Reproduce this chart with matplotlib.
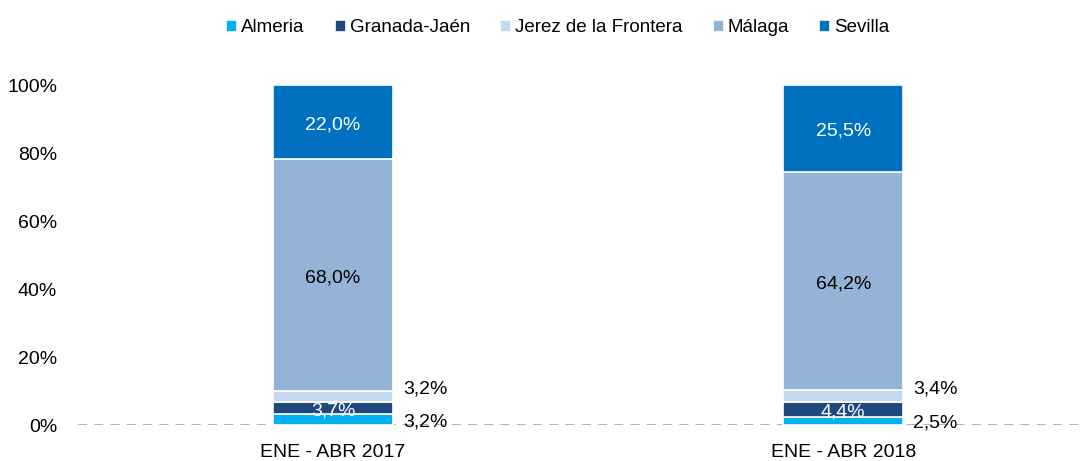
import numpy as np
import matplotlib
matplotlib.use("Agg")
from matplotlib import pyplot as plt

plt.rcParams['font.family'] = ['Liberation Sans', 'DejaVu Sans']

periods = ['ENE - ABR 2017', 'ENE - ABR 2018']
series = ['Almeria', 'Granada-Jaén', 'Jerez de la Frontera', 'Málaga', 'Sevilla']
almeria = [3.2, 2.5]
granada = [3.7, 4.4]
jerez = [3.2, 3.4]
malaga = [68.0, 64.2]
sevilla = [22.0, 25.5]
colors = ['#00B0F0', '#1F497D', '#C5D9F1', '#95B3D7', '#0070C0']

data = [almeria, granada, jerez, malaga, sevilla]

fig = plt.figure(figsize=(10.83, 4.61), dpi=100)
ax = fig.add_axes([78/1083, 1-425/461, 1-78/1083, 340/461])

x = np.arange(len(periods))
w = 0.235
fs = 14
bottom = np.zeros(len(periods))
for name, vals, c in zip(series, data, colors):
    vals = np.array(vals)
    ax.bar(x, vals, w, bottom=bottom, color=c, edgecolor='white', linewidth=1.2, label=name)
    for i, v in enumerate(vals):
        lab = f"{v:.1f}".replace('.', ',') + '%'
        mid = bottom[i] + v / 2
        if name in ('Málaga', 'Sevilla'):
            tc = 'white' if name == 'Sevilla' else 'black'
            ax.text(x[i], mid - 0.8, lab, ha='center', va='center', fontsize=fs, color=tc)
        elif name == 'Granada-Jaén':
            ax.text(x[i], mid - 0.8, lab, ha='center', va='center', fontsize=fs, color='white')
        elif name == 'Almeria':
            ax.text(x[i] + w/2 + 0.02, mid - 0.6, lab, ha='left', va='center', fontsize=fs, color='black')
        else:
            ax.text(x[i] + w/2 + 0.02, mid + 2.0, lab, ha='left', va='center', fontsize=fs, color='black')
    bottom += vals

ax.set_xlim(-0.5, 1.47)
ax.set_ylim(0, 100)
ax.set_yticks([0, 20, 40, 60, 80, 100])
ax.set_yticklabels([f"{t}%" for t in [0, 20, 40, 60, 80, 100]], fontsize=fs)
ax.set_xticks(x)
ax.set_xticklabels(periods, fontsize=fs)
ax.tick_params(axis='x', length=0, pad=14)
ax.tick_params(axis='y', length=0, pad=15)
for s in ax.spines.values():
    s.set_visible(False)
ax.axhline(0, color='#ADADAD', linestyle=(0, (5, 4)), linewidth=1.3, zorder=0)

fig.legend(loc='upper center', bbox_to_anchor=(0.515, 0.995), ncol=5, frameon=False,
           fontsize=13.5, handlelength=0.6, handleheight=0.6, handletextpad=0.2, columnspacing=1.6)

fig.savefig('out.png', dpi=100)
